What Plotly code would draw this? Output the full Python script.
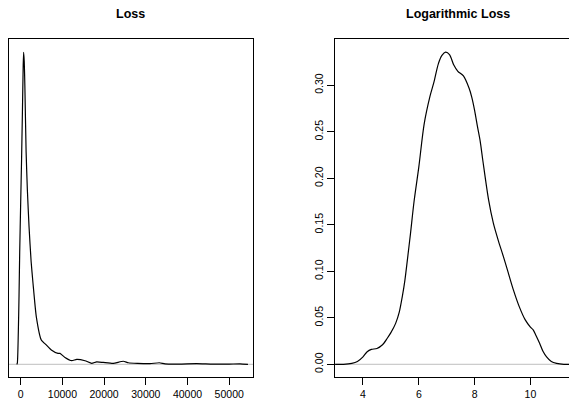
import plotly.graph_objects as go

# ---- data ----
loss_x = [-960, -815, -575, -400, -240, 0, 200, 400, 600, 700, 850, 1000, 1300, 1600, 2000, 2500,
          2950, 3740, 4940, 6140, 7340, 8945, 9420, 10620, 12230, 13430, 15420, 17030, 18220,
          19810, 22210, 24600, 25800, 28000, 31000, 33240, 34600, 38000, 42200, 46000, 50000,
          52600, 54500]
loss_density = [0, 0.000001, 0.000034, 0.000075, 0.000122, 0.000177, 0.000221, 0.000272, 0.000326,
                0.000340, 0.000330, 0.000303, 0.000231, 0.000190, 0.000150, 0.000112, 0.0000884,
                0.0000520, 0.0000265, 0.0000211, 0.0000156, 0.0000119, 0.0000119, 0.0000075,
                0.0000039, 0.0000054, 0.0000039, 0.0000010, 0.0000027, 0.0000020, 0.0000010,
                0.0000033, 0.0000017, 0.0000010, 0.0000007, 0.0000017, 0.0000005, 0.0000003,
                0.0000007, 0.0000002, 0.0000002, 0.0000005, 0]

logloss_x = [3.0, 3.3, 3.6, 3.8, 4.0, 4.15, 4.3, 4.5, 4.7, 4.87, 5.0, 5.17, 5.3, 5.41, 5.5, 5.59,
             5.7, 5.83, 6.0, 6.19, 6.4, 6.54, 6.7, 6.83, 6.96, 7.1, 7.25, 7.4, 7.6, 7.8, 7.9, 8.0,
             8.1, 8.2, 8.3, 8.5, 8.67, 8.85, 9.03, 9.2, 9.39, 9.6, 9.81, 10.0, 10.1, 10.2, 10.33,
             10.45, 10.58, 10.75, 10.94, 11.2, 11.7]
logloss_density = [0, 0, 0.001, 0.003, 0.008, 0.0135, 0.016, 0.017, 0.021, 0.028, 0.034, 0.044,
                   0.056, 0.073, 0.09, 0.112, 0.14, 0.175, 0.212, 0.258, 0.288, 0.303, 0.323,
                   0.332, 0.3355, 0.333, 0.322, 0.315, 0.310, 0.297, 0.287, 0.273, 0.256, 0.24,
                   0.218, 0.177, 0.152, 0.133, 0.116, 0.099, 0.080, 0.062, 0.048, 0.040, 0.037,
                   0.031, 0.0226, 0.014, 0.008, 0.003, 0.001, 0, 0]

loss_ticks = [0, 10000, 20000, 30000, 40000, 50000]
logloss_xticks = [4, 6, 8, 10]
logloss_yticks = [0.00, 0.05, 0.10, 0.15, 0.20, 0.25, 0.30]
titles = ["Loss", "Logarithmic Loss"]

# page body has an 8px default margin: build the figure 8px smaller and offset coordinates
OFF = 8
W, H = 577 - OFF, 402 - OFF
FONT = "Liberation Sans, Arial, Helvetica, sans-serif"
peak = max(loss_density)


def fx(px):
    return (px - OFF) / W


def fy(py):
    return 1 - (py - OFF) / H


fig = go.Figure()
fig.add_trace(go.Scatter(x=loss_x, y=loss_density, mode="lines",
                         line=dict(color="black", width=1.2, shape="spline", smoothing=0.5),
                         xaxis="x", yaxis="y", showlegend=False, hoverinfo="skip"))
fig.add_trace(go.Scatter(x=logloss_x, y=logloss_density, mode="lines",
                         line=dict(color="black", width=1.2, shape="spline", smoothing=0.8),
                         xaxis="x2", yaxis="y2", showlegend=False, hoverinfo="skip"))

# zero lines (gray)
fig.add_shape(type="line", xref="x domain", yref="y", x0=0, x1=1, y0=0, y1=0,
              line=dict(color="#bebebe", width=1), layer="below")
fig.add_shape(type="line", xref="x2 domain", yref="y2", x0=0, x1=1, y0=0, y1=0,
              line=dict(color="#bebebe", width=1), layer="below")

ydom = [fy(377), fy(39)]
axis_common = dict(showgrid=False, zeroline=False, showline=True, linecolor="black", linewidth=1,
                   ticks="outside", ticklen=7, tickcolor="black", tickwidth=1, automargin=False,
                   tickfont=dict(family=FONT, size=10.5, color="black"))

fig.update_layout(
    width=W, height=H,
    margin=dict(l=0, r=0, t=0, b=0, autoexpand=False),
    paper_bgcolor="white", plot_bgcolor="white",
    xaxis=dict(domain=[max(fx(8.5), 0), fx(253)], range=[-2925, 55705], tickvals=loss_ticks,
               ticktext=[str(t) for t in loss_ticks], mirror=True, anchor="y", **axis_common),
    yaxis=dict(domain=ydom, range=[-0.0407 * peak, 1.0426 * peak], showgrid=False, zeroline=False,
               showline=True, linecolor="black", linewidth=1, mirror=True, showticklabels=False,
               ticks="", anchor="x", automargin=False),
    xaxis2=dict(domain=[fx(334.7), 1], range=[2.986, 11.67], tickvals=logloss_xticks,
                ticktext=[str(t) for t in logloss_xticks], mirror=True, anchor="y2", **axis_common),
    yaxis2=dict(domain=ydom, range=[-0.01366, 0.3497], tickvals=logloss_yticks,
                ticktext=[f"{t:.2f}" for t in logloss_yticks], tickangle=-90, mirror=False,
                anchor="x2", **axis_common),
)

fig.add_annotation(text="<b>" + titles[0] + "</b>", xref="paper", yref="paper",
                   x=fx(130.5), y=fy(14.5), xanchor="center", yanchor="middle",
                   showarrow=False, font=dict(family=FONT, size=12.5, color="black"))
fig.add_annotation(text="<b>" + titles[1] + "</b>", xref="paper", yref="paper",
                   x=fx(457.5), y=fy(14.5), xanchor="center", yanchor="middle",
                   showarrow=False, font=dict(family=FONT, size=12.5, color="black"))

fig.write_html("out.html")
